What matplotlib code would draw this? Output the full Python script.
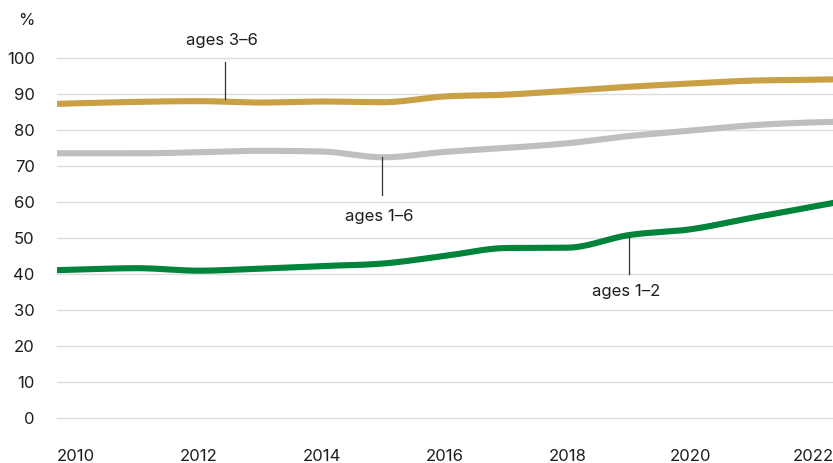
import numpy as np
import matplotlib
matplotlib.use("Agg")
import matplotlib.pyplot as plt

# ── Data: share of children in daycare, by age group (%) ─────────────────────
years = [2009, 2010, 2011, 2012, 2013, 2014, 2015, 2016,
         2017, 2018, 2019, 2020, 2021, 2022, 2023]
ages_3_6 = [87.0, 87.5, 87.9, 88.1, 87.7, 88.0, 87.8, 89.4,
            89.9, 91.0, 92.1, 93.0, 93.8, 94.05, 94.4]
ages_1_6 = [73.6, 73.6, 73.6, 73.9, 74.3, 74.1, 72.5, 74.0,
            75.1, 76.4, 78.4, 79.9, 81.4, 82.2, 82.5]
ages_1_2 = [40.8, 41.3, 41.7, 41.0, 41.6, 42.3, 43.0, 45.1,
            47.3, 47.4, 50.9, 52.5, 55.7, 58.8, 62.0]

tick_years = [2010, 2012, 2014, 2016, 2018, 2020, 2022]
y_ticks = list(range(0, 101, 10))

GOLD = "#C9A044"
GREY = "#BDC0BF"
GREEN = "#00833A"
TEXT = "#1E1E1E"
GRID = "#DDDDDD"


def monotone_curve(x, y, n=40):
    """Monotone cubic (Fritsch-Carlson style) through the points."""
    x = np.asarray(x, float)
    y = np.asarray(y, float)
    h = np.diff(x)
    s = np.diff(y) / h
    m = np.zeros_like(y)
    for i in range(1, len(y) - 1):
        p = (s[i - 1] * h[i] + s[i] * h[i - 1]) / (h[i - 1] + h[i])
        m[i] = (np.sign(s[i - 1]) + np.sign(s[i])) * min(abs(s[i - 1]), abs(s[i]), 0.5 * abs(p))
    m[0] = (3 * s[0] - m[1]) / 2
    m[-1] = (3 * s[-1] - m[-2]) / 2
    xs, ys = [], []
    for i in range(len(h)):
        t = np.linspace(0, 1, n, endpoint=False)
        h00 = 2 * t**3 - 3 * t**2 + 1
        h10 = t**3 - 2 * t**2 + t
        h01 = -2 * t**3 + 3 * t**2
        h11 = t**3 - t**2
        xs.append(x[i] + t * h[i])
        ys.append(h00 * y[i] + h10 * h[i] * m[i] + h01 * y[i + 1] + h11 * h[i] * m[i + 1])
    xs.append([x[-1]])
    ys.append([y[-1]])
    return np.concatenate(xs), np.concatenate(ys)


plt.rcParams["font.family"] = ["Inter", "DejaVu Sans"]

fig = plt.figure(figsize=(8.33, 4.63), dpi=100)
ax = fig.add_axes([57 / 833, 44.7 / 463, 776 / 833, 360 / 463])

for series, color in [(ages_1_2, GREEN), (ages_1_6, GREY), (ages_3_6, GOLD)]:
    cx, cy = monotone_curve(years, series)
    ax.plot(cx, cy, color=color, lw=4.4, solid_capstyle="round", zorder=3)

ax.set_xlim(2009.69, 2022.32)
ax.set_ylim(0, 100)

ax.set_yticks(y_ticks)
ax.set_xticks(tick_years)
ax.set_xticklabels([str(y) for y in tick_years])
ax.grid(axis="y", color=GRID, lw=1)
ax.grid(axis="x", visible=False)
for gl in ax.get_ygridlines():
    gl.set_clip_on(False)
ax.set_axisbelow(True)
for side in ax.spines.values():
    side.set_visible(False)
ax.tick_params(axis="y", length=0, pad=16, labelsize=12, labelcolor=TEXT)
ax.tick_params(axis="x", length=0, pad=22, labelsize=12, labelcolor=TEXT)

# unit label above the y tick labels
ax.text(-22 / 776, 110.4, "%", transform=ax.get_yaxis_transform(),
        ha="right", va="center", fontsize=12, color=TEXT, clip_on=False)

# ── Series labels with leader lines ───────────────────────────────────────────
labels = [
    ("ages 3\u20136", 2012.43, 99.1, 88.6, 104.9),
    ("ages 1\u20136", 2014.98, 72.5, 62.0, 56.0),
    ("ages 1\u20132", 2019.0, 50.4, 40.0, 35.2),
]
for text, lx, y_top, y_bot, ty in labels:
    ax.plot([lx, lx], [y_bot, y_top], color="#333333", lw=0.9, zorder=4, clip_on=False)
    ax.text(lx - 0.05, ty, text, ha="center", va="center", fontsize=12, color=TEXT)

fig.savefig("out.png", dpi=100)
